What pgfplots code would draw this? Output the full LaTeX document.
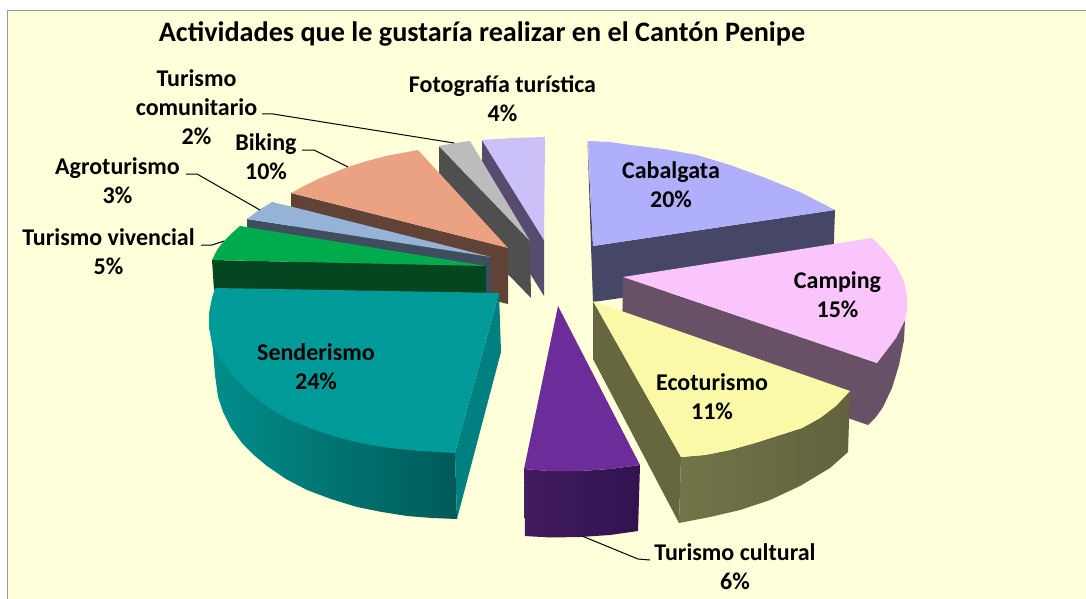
\documentclass[border=0pt]{standalone}
\usepackage{pgfplots}
\pgfplotsset{compat=1.18}
\usepackage{fontspec}
\setmainfont{Carlito}
\definecolor{fondo}{HTML}{FFFFD9}
\definecolor{borde}{HTML}{9A9A9A}
\definecolor{lavT}{HTML}{CCC0F9}\definecolor{lavS}{HTML}{574B70}
\definecolor{griT}{HTML}{BCBCBC}\definecolor{griS}{HTML}{4F4F4F}
\definecolor{bikT}{HTML}{EAA282}\definecolor{bikS}{HTML}{614237}
\definecolor{agrT}{HTML}{95B3D7}\definecolor{agrS}{HTML}{3F4D5E}
\definecolor{vivT}{HTML}{00AB4E}\definecolor{vivS}{HTML}{03461F}
\definecolor{senT}{HTML}{009B99}\definecolor{senI}{HTML}{008080}
\definecolor{senA}{HTML}{008E8C}\definecolor{senB}{HTML}{005A58}
\definecolor{culT}{HTML}{6C2D9A}\definecolor{culA}{HTML}{411C5E}\definecolor{culB}{HTML}{321250}
\definecolor{cabT}{HTML}{AFAFFB}\definecolor{cabS}{HTML}{464766}
\definecolor{camT}{HTML}{FAC4FC}\definecolor{camS}{HTML}{685066}
\definecolor{ecoT}{HTML}{F9F9A8}\definecolor{ecoS}{HTML}{66663F}
\definecolor{ecoA}{HTML}{727448}\definecolor{ecoB}{HTML}{62633D}
\tikzset{lbl/.style={font=\bfseries\fontsize{24}{29}\selectfont, align=center, text=black, inner sep=0pt}}
\begin{document}
\begin{tikzpicture}
\begin{axis}[
  scale only axis, width=1086pt, height=599pt,
  xmin=0, xmax=1086, ymin=0, ymax=599, y dir=reverse,
  axis lines=none, no markers,
  every axis plot/.append style={draw=none},
]
% fondo
\addplot[fill=white] coordinates {(0,0)(1086,0)(1086,599)(0,599)};
\addplot[fill=fondo] coordinates {(8,11)(1086,11)(1086,599)(8,599)};
\addplot[draw=borde, line width=1.2pt] coordinates {(7.5,599)(7.5,10.5)(1086,10.5)};
% Fotografia turistica
\addplot[fill=lavS] coordinates {(482,140)(544,240)(544,296)(482,196)};
\addplot[fill=lavT] coordinates {(482,140)(513,138)(545,137)(544,240)};
% Turismo comunitario
\addplot[fill=griS] coordinates {(439,146)(530,241)(531,298)(439,203)};
\addplot[fill=griT] coordinates {(439,146)(455,143)(470,141)(530,241)};
% Biking
\addplot[fill=bikS] coordinates {(291,193)(508,248)(508,304)(291,250)};
\addplot[fill=bikT] coordinates {(291,193)(304,186)(318,179)(333,173)(348,167)(367,161)(386,156)(402,153)(418,150)(508,248)};
% Agroturismo
\addplot[fill=agrS] coordinates {(247,219)(491,257)(491,293)(247,255)};
\addplot[fill=agrT] coordinates {(247,219)(259,210)(272,202)(293,207)(491,257)};
% Turismo vivencial
\addplot[fill=vivS] coordinates {(212,260)(486,266)(486,293)(214,290)};
\addplot[fill=vivT] coordinates {(212,260)(217,250)(223,242)(231,234)(240,226)(486,266)};
% Senderismo
\addplot[left color=senA, right color=senB] coordinates {(209,313)(210,330)(213,350)(215,375)(218,397)(223,412)(231,428)(242,443)(255,456)(267,466)(286,479)(307,490)(331,499)(357,507)(382,512)(407,516)(432,518)(457,519)(455,453)};
\addplot[fill=senI] coordinates {(499,293)(501,352)(457,519)(455,453)};
\addplot[fill=senT] coordinates {(215,288)(499,293)(455,453)(420,451)(390,448)(365,444)(340,438)(315,430)(290,420)(269,408)(250,393)(232,375)(220,358)(212,343)(209,328)(209,313)(212,298)};
% Turismo cultural
\addplot[left color=culA, right color=culB] coordinates {(524,469)(525,536)(550,537.5)(580,537)(610,535)(638,531)(640,465)(610,469)(580,471)(550,471)};
\addplot[fill=culT] coordinates {(558,306)(640,465)(610,469)(580,471)(550,471)(524,469)};
% Cabalgata
\addplot[fill=cabS] coordinates {(593,246)(835,210)(833,268)(593,302)};
\addplot[fill=cabS] coordinates {(587.5,141)(593,246)(593,302)(591,246)};
\addplot[fill=cabT] coordinates {(588,141)(610,142)(630,145)(663,149)(697,155)(730,165)(763,177)(800,192)(835,210)(593,246)};
% Camping
\addplot[fill=camS] coordinates {(623,277)(877,363)(905,320)(904,340)(899,365)(892,388)(883,407)(876,417)(868,425)(622,340)};
\addplot[fill=camT] coordinates {(623,277)(872,238)(886,252)(897,267)(904,282)(907,297)(907,310)(905,320)(896,338)(877,363)};
% Ecoturismo
\addplot[fill=ecoS] coordinates {(593,301)(681,457)(679,523)(593,359)};
\addplot[left color=ecoA, right color=ecoB] coordinates {(681,457)(705,455)(730,450)(755,443)(780,435)(802,428)(820,418)(836,406)(850,391)(848,452)(830,468)(800,486)(770,500)(740,510)(710,517)(679,523)};
\addplot[fill=ecoT] coordinates {(593,301)(850,391)(836,406)(820,418)(802,428)(780,435)(755,443)(730,450)(705,455)(681,457)};
% lineas guia
\addplot[draw=black, line width=1pt] coordinates {(262,114)(273,114)(454,143)};
\addplot[draw=black, line width=1pt] coordinates {(302,150)(314,150)(348,167)};
\addplot[draw=black, line width=1pt] coordinates {(186,174)(197,174)(260,210)};
\addplot[draw=black, line width=1pt] coordinates {(201,245)(212,245)(224,241)};
\addplot[draw=black, line width=1pt] coordinates {(582,536)(638,559)(650,560)};
% textos
\node[font=\bfseries\fontsize{28.2}{32}\selectfont, inner sep=0pt] at (axis cs:482,33.5) {Actividades que le gustaría realizar en el Cantón Penipe};
\node[lbl] at (axis cs:502.5,98.5) {Fotografía turística\\4\%};
\node[lbl] at (axis cs:196.5,107) {Turismo\\comunitario\\2\%};
\node[lbl] at (axis cs:266,156.5) {Biking\\10\%};
\node[lbl] at (axis cs:117.5,180.5) {Agroturismo\\3\%};
\node[lbl] at (axis cs:108.5,251.5) {Turismo vivencial\\5\%};
\node[lbl] at (axis cs:671,184.5) {Cabalgata\\20\%};
\node[lbl] at (axis cs:837.5,294.5) {Camping\\15\%};
\node[lbl] at (axis cs:712,396.5) {Ecoturismo\\11\%};
\node[lbl] at (axis cs:316,366.5) {Senderismo\\24\%};
\node[lbl] at (axis cs:735,567) {Turismo cultural\\6\%};
\end{axis}
\end{tikzpicture}
\end{document}
